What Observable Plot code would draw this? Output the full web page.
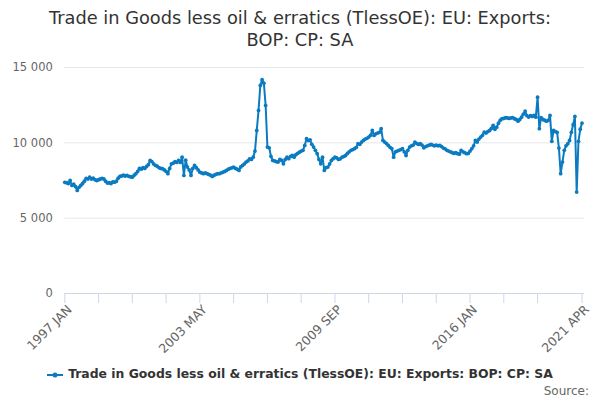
<!DOCTYPE html>
<html>
<head>
<meta charset="utf-8">
<script src="https://cdn.jsdelivr.net/npm/d3@7"></script>
<script src="https://cdn.jsdelivr.net/npm/@observablehq/plot@0.6"></script>
<style>
  body { margin: 0; background: #fff; font-family: "DejaVu Sans", sans-serif; }
  #wrap { width: 600px; height: 400px; position: relative; overflow: hidden; }
  #title { height: 55px; box-sizing: border-box; padding-top: 7px; text-align: center; font-size: 17.8px; line-height: 22px; color: #333; }
  #chart { position: absolute; top: 55px; left: 0; }
  #legend { position: absolute; top: 366px; left: 0; width: 600px; text-align: center; font-size: 12.4px; font-weight: bold; color: #333; white-space: nowrap; }
  #legend svg { vertical-align: middle; margin-right: 5px; }
  #source { position: absolute; top: 384px; right: 11px; font-size: 12px; color: #666; }
</style>
</head>
<body>
<div id="wrap">
  <div id="title">Trade in Goods less oil &amp; erratics (TlessOE): EU: Exports:<br>BOP: CP: SA</div>
  <div id="chart"></div>
  <div id="legend"><svg width="16" height="10"><line x1="0" y1="5" x2="16" y2="5" stroke="#0b7bc1" stroke-width="2"/><circle cx="8" cy="5" r="2.5" fill="#0b7bc1"/></svg>Trade in Goods less oil &amp; erratics (TlessOE): EU: Exports: BOP: CP: SA</div>
  <div id="source">Source:</div>
</div>
<script>
// Monthly values, 1997 JAN .. 2021 APR (£ million)
const values = [
7380,7350,7300,7500,7170,7250,7100,6840,7050,7170,7300,7450,
7640,7600,7720,7600,7650,7550,7500,7550,7600,7640,7600,7450,
7330,7350,7300,7400,7390,7450,7650,7770,7800,7850,7800,7840,
7780,7750,7720,7850,7950,8100,8300,8250,8350,8300,8430,8550,
8830,8750,8600,8500,8450,8350,8300,8280,8200,8100,7950,8300,
8610,8650,8750,8700,8830,8700,9050,7840,8850,8390,8200,7840,
8300,8500,8350,8200,8050,8000,7950,8000,7950,7900,7850,7770,
7850,7900,7950,7950,8000,8050,8100,8170,8250,8300,8340,8390,
8300,8250,8170,8400,8500,8600,8720,8800,8940,8900,9050,9450,
10820,12150,13810,14190,13960,12480,9720,9670,9100,8830,8800,8750,
8720,8900,8830,8610,8900,9050,8950,9100,9160,9050,9210,9300,
9380,9450,9500,9830,10270,10150,10200,9900,9720,9500,9280,8900,
8610,9050,8170,8350,8390,8600,8830,8950,9050,9000,8900,8940,
9050,9100,9160,9300,9400,9500,9550,9610,9700,9940,9900,10050,
10160,10250,10300,10380,10500,10820,10490,10600,10650,10700,10940,10160,
10050,9950,9830,9700,9610,9050,9400,9450,9500,9550,9610,9400,
9160,9500,9720,9800,9850,10050,9950,9900,9940,9850,9670,9750,
9800,9850,9890,9850,9800,9850,9800,9830,9750,9650,9600,9500,
9450,9400,9350,9300,9350,9280,9250,9500,9400,9350,9280,9300,
9450,9610,9800,10160,10050,10250,10380,10500,10710,10650,10750,10820,
10950,11150,10900,11040,11300,11500,11600,11620,11670,11650,11620,11650,
11670,11600,11550,11440,11550,11700,11900,12110,11800,11710,11800,11750,
11820,11700,13030,10940,11670,11550,11500,11440,11490,11820,10100,10820,
10750,10700,9650,7950,8720,9500,9800,9940,10160,10700,11200,11750,
6730,10100,10900,11310
];
const tickIdx = [0,19,38,57,76,95,114,133,152,171,190,209,228,247,266,291];
const labelIdx = [0,76,152,228,291];
const tickLabels = ["1997 JAN","2003 MAY","2009 SEP","2016 JAN","2021 APR"];
const yTicks = [0,5000,10000,15000];
const gridTicks = [5000,10000,15000];

const data = values.map((v, i) => ({i, v}));
const color = "#0b7bc1";
const fmtY = d => d3.format(",")(d).replace(/,/g, " ");
const fmtX = d => { const k = labelIdx.indexOf(d); return k >= 0 ? tickLabels[k] : ""; };

const chart = Plot.plot({
  width: 600,
  height: 300,
  marginLeft: 64.3,
  marginRight: 16,
  marginTop: 12,
  marginBottom: 62,
  style: {fontFamily: "DejaVu Sans", background: "transparent", overflow: "visible"},
  x: {domain: [0, 292.4], axis: null},
  y: {domain: [0, 15000], axis: null},
  marks: [
    Plot.gridY(gridTicks, {stroke: "#e6e6e6", strokeOpacity: 1}),
    Plot.ruleY([0], {stroke: "#ccd6eb"}),
    Plot.axisX(tickIdx, {label: null, tickSize: 10, stroke: "#ccd6eb", strokeOpacity: 1, tickFormat: null, text: null}),
    Plot.axisX(labelIdx, {label: null, tickSize: 0, tickFormat: fmtX, tickRotate: -45, tickPadding: 10, dx: 5, dy: 4, fill: "#666", fontSize: 12.5}),
    Plot.axisY(yTicks, {label: null, tickSize: 0, tickPadding: 12, tickFormat: fmtY, fill: "#666", fontSize: 11.5}),
    Plot.line(data, {x: "i", y: "v", stroke: color, strokeWidth: 2}),
    Plot.dot(data, {x: "i", y: "v", r: 1.9, fill: color})
  ]
});
document.getElementById("chart").appendChild(chart);
</script>
</body>
</html>
